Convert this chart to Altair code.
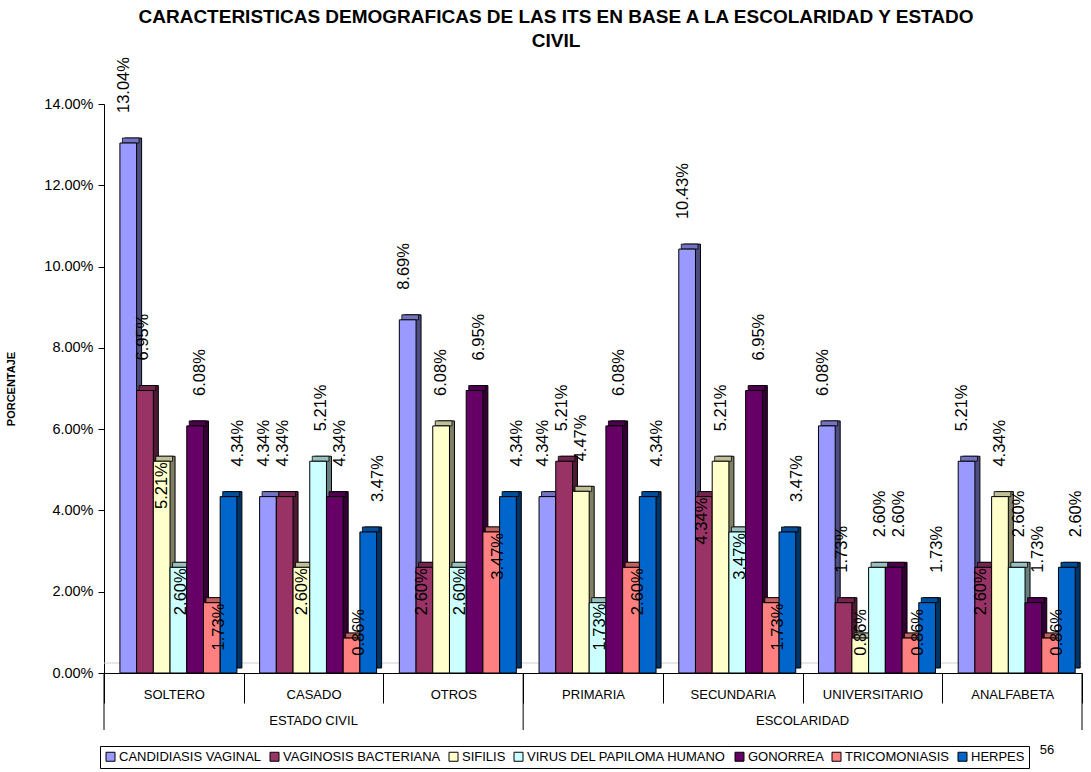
import altair as alt
import pandas as pd

FONT = "Liberation Sans"

categorias = ["SOLTERO", "CASADO", "OTROS", "PRIMARIA", "SECUNDARIA", "UNIVERSITARIO", "ANALFABETA"]
grupos = {"ESTADO CIVIL": ["SOLTERO", "CASADO", "OTROS"],
          "ESCOLARIDAD": ["PRIMARIA", "SECUNDARIA", "UNIVERSITARIO", "ANALFABETA"]}
series = ["CANDIDIASIS VAGINAL", "VAGINOSIS BACTERIANA", "SIFILIS",
          "VIRUS DEL PAPILOMA HUMANO", "GONORREA", "TRICOMONIASIS", "HERPES"]

# porcentajes por serie (en el orden de categorias)
candidiasis   = [13.04, 4.34, 8.69, 4.34, 10.43, 6.08, 5.21]
vaginosis     = [6.95, 4.34, 2.60, 5.21, 4.34, 1.73, 2.60]
sifilis       = [5.21, 2.60, 6.08, 4.47, 5.21, 0.86, 4.34]
vph           = [2.60, 5.21, 2.60, 1.73, 3.47, 2.60, 2.60]
gonorrea      = [6.08, 4.34, 6.95, 6.08, 6.95, 2.60, 1.73]
tricomoniasis = [1.73, 0.86, 3.47, 2.60, 1.73, 0.86, 0.86]
herpes        = [4.34, 3.47, 4.34, 4.34, 3.47, 1.73, 2.60]
valores = [candidiasis, vaginosis, sifilis, vph, gonorrea, tricomoniasis, herpes]

# etiqueta dentro de la barra (1) o encima (0)
dentro = [
    [0, 0, 0, 0, 0, 0, 0],
    [0, 0, 1, 0, 1, 0, 1],
    [1, 1, 0, 0, 0, 1, 0],
    [1, 0, 1, 1, 1, 0, 0],
    [0, 0, 0, 0, 0, 0, 0],
    [1, 1, 1, 1, 1, 1, 1],
    [0, 0, 0, 0, 0, 0, 0],
]

colores = ["#9999FF", "#993366", "#FFFFCC", "#CCFFFF", "#660066", "#FF8080", "#0066CC"]
colores_lado = ["#4D4D80", "#4D1A33", "#808066", "#668080", "#330033", "#804040", "#003366"]
colores_tope = ["#7373BF", "#73264D", "#BFBF99", "#99BFBF", "#4D004D", "#BF6060", "#004D99"]

rows = []
for s, vals, flags, cl, ct in zip(series, valores, dentro, colores_lado, colores_tope):
    for c, v, f in zip(categorias, vals, flags):
        rows.append({"cat": c, "serie": s, "v": v / 100.0, "dentro": f, "lado": cl, "tope": ct})
df = pd.DataFrame(rows)

W, H = 978, 569

xscale = alt.Scale(domain=categorias, paddingInner=0, paddingOuter=0)
yscale = alt.Scale(domain=[0, 0.14], nice=False, zero=True)

xaxis = alt.Axis(title=None, labelAngle=0, labelFontSize=13, labelFont=FONT, labelColor="black",
                 labelPadding=-15, tickSize=30, tickBand="extent", domainColor="black",
                 tickColor="black", grid=False, labelLimit=200)
yaxis = alt.Axis(values=[0, 0.02, 0.04, 0.06, 0.08, 0.10, 0.12, 0.14], format=".2%",
                 title="PORCENTAJE", titleFontSize=11, titleFontWeight="bold", titleFont=FONT,
                 titleColor="black", titlePadding=27, tickSize=6, labelPadding=5,
                 labelFontSize=14.5, labelFont=FONT, labelColor="black", grid=False,
                 domainColor="black", tickColor="black")


def base_chart(align):
    return alt.Chart(df).encode(
        x=alt.X("cat:N", scale=xscale, sort=categorias, axis=xaxis),
        xOffset=alt.XOffset("serie:N", sort=series,
                            scale=alt.Scale(domain=series, paddingInner=0, paddingOuter=0.68,
                                            align=align)),
    )


floor = alt.Chart(pd.DataFrame({"z": [0]})).mark_rule(color="#D0D0D0", yOffset=-10, strokeWidth=1).encode(
    y=alt.Y("z:Q", scale=yscale, axis=yaxis))

# cara lateral (3D)
side = base_chart(0.92).mark_bar(yOffset=-5, y2Offset=-5, stroke="black", strokeWidth=1).encode(
    y=alt.Y("v:Q", scale=yscale, axis=yaxis),
    fill=alt.Fill("lado:N", scale=None),
)
# cara superior (3D)
top = base_chart(0.81).mark_bar(yOffset=-5, y2Offset=0, stroke="black", strokeWidth=0.8).encode(
    y=alt.Y("v:Q", scale=yscale, axis=yaxis),
    y2="v:Q",
    fill=alt.Fill("tope:N", scale=None),
)

base = base_chart(0.70)

front = base.mark_bar(stroke="black", strokeWidth=1).encode(
    y=alt.Y("v:Q", scale=yscale, axis=yaxis),
    color=alt.Color("serie:N", scale=alt.Scale(domain=series, range=colores), sort=series,
                    legend=alt.Legend(title=None, orient="none", legendX=-4, legendY=642,
                                      direction="horizontal", columns=7, symbolType="square",
                                      symbolSize=81, symbolStrokeColor="black", symbolStrokeWidth=1,
                                      labelFontSize=13, labelFont=FONT, labelColor="black",
                                      labelOffset=2, columnPadding=6, padding=4,
                                      strokeColor="black", fillColor="white", labelLimit=400)),
)

lab_arriba = base.transform_filter(alt.datum.dentro == 0).mark_text(
    angle=270, align="left", baseline="middle", dx=30, dy=2, fontSize=16.5, font=FONT, color="black"
).encode(y=alt.Y("v:Q", scale=yscale), text=alt.Text("v:Q", format=".2%"))

lab_dentro = base.transform_filter(alt.datum.dentro == 1).transform_calculate(
    ly="max(datum.v, 0.016)"
).mark_text(
    angle=270, align="right", baseline="middle", dx=-1, dy=2, fontSize=16.5, font=FONT, color="black"
).encode(y=alt.Y("ly:Q", scale=yscale), text=alt.Text("v:Q", format=".2%"))

# group labels and dividers
grp_rows_mid, grp_rows_edge = [], []
for g, cats in grupos.items():
    n = len(cats)
    if n % 2 == 1:
        grp_rows_mid.append({"cat": cats[n // 2], "g": g, "z": 0})
    else:
        grp_rows_edge.append({"cat": cats[n // 2], "g": g, "z": 0})

grp_mid = alt.Chart(pd.DataFrame(grp_rows_mid)).mark_text(
    dy=48, fontSize=13, font=FONT, color="black", baseline="middle").encode(
    x=alt.X("cat:N", scale=xscale, bandPosition=0.5), y=alt.Y("z:Q", scale=yscale), text="g:N")
grp_edge = alt.Chart(pd.DataFrame(grp_rows_edge)).mark_text(
    dy=48, fontSize=13, font=FONT, color="black", baseline="middle").encode(
    x=alt.X("cat:N", scale=xscale, bandPosition=0), y=alt.Y("z:Q", scale=yscale), text="g:N")

starts = [{"cat": cats[0], "z": 0} for cats in grupos.values()]
ends = [{"cat": list(grupos.values())[-1][-1], "z": 0}]
div_start = alt.Chart(pd.DataFrame(starts)).mark_rule(color="black", y2Offset=57).encode(
    x=alt.X("cat:N", scale=xscale, bandPosition=0), y=alt.Y("z:Q", scale=yscale), y2="z:Q")
div_end = alt.Chart(pd.DataFrame(ends)).mark_rule(color="black", y2Offset=57).encode(
    x=alt.X("cat:N", scale=xscale, bandPosition=1), y=alt.Y("z:Q", scale=yscale), y2="z:Q")

pagina = alt.Chart(pd.DataFrame({"t": ["56"]})).mark_text(
    fontSize=13, font=FONT, color="black").encode(
    x=alt.value(943), y=alt.value(646), text="t:N")

titulo = alt.TitleParams(
    text=["CARACTERISTICAS DEMOGRAFICAS DE LAS ITS EN BASE A LA ESCOLARIDAD Y ESTADO", "CIVIL"],
    fontSize=19, lineHeight=24, fontWeight="bold", font=FONT, color="black",
    anchor="middle", dx=-37, dy=-2)

chart = alt.layer(floor, side, top, front, lab_arriba, lab_dentro, grp_mid, grp_edge,
                  div_start, div_end, pagina).resolve_scale(xOffset="independent").properties(
    width=W, height=H, title=titulo,
    padding={"left": 104, "top": 104, "right": 9, "bottom": 99},
    autosize="none", background="white",
).configure_view(stroke=None)

chart.save("out.html", embed_options={"renderer": "svg", "actions": False})
